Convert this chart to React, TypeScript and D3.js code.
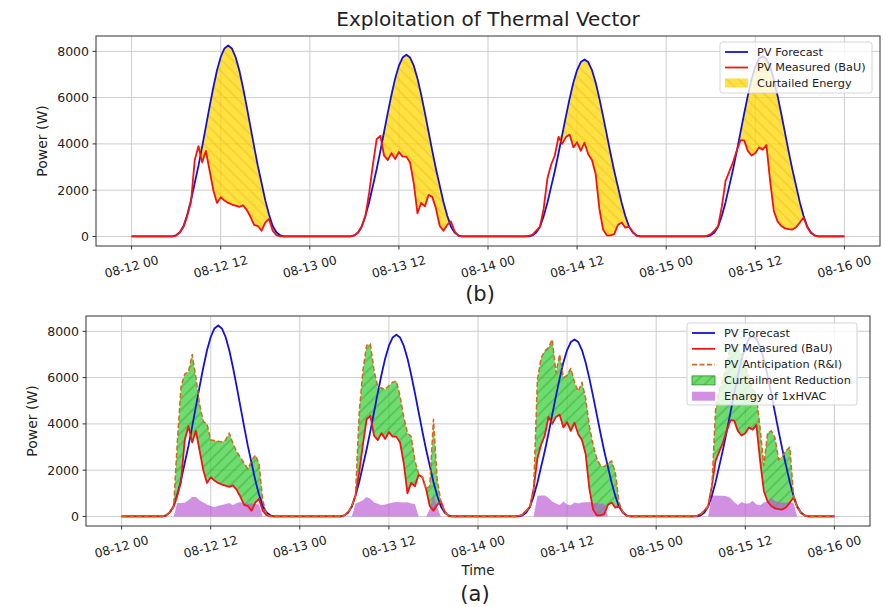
import React from "react";
import * as d3 from "d3";

// half-hour grid of daylight hours, same for every day (zero outside)
const HOURS = [4.5, 5, 5.5, 6, 6.5, 7, 7.5, 8, 8.5, 9, 9.5, 10, 10.5, 11, 11.5, 12, 12.5, 13, 13.5, 14, 14.5, 15, 15.5, 16, 16.5, 17, 17.5, 18, 18.5, 19, 19.5, 20, 20.5, 21, 21.5];

const FORECAST_D1 = [0, 0, 0, 50, 180, 455, 950, 1570, 2310, 3050, 3880, 4745, 5610, 6435, 7180, 7755, 8125, 8250, 8125, 7755, 7180, 6435, 5610, 4745, 3880, 3050, 2310, 1570, 950, 455, 180, 50, 0, 0, 0];
const FORECAST_D2 = [0, 0, 0, 47, 173, 432, 903, 1492, 2198, 2905, 3690, 4514, 5338, 6123, 6830, 7379, 7732, 7850, 7732, 7379, 6830, 6123, 5338, 4514, 3690, 2905, 2198, 1492, 903, 432, 173, 47, 0, 0, 0];
const FORECAST_D3 = [0, 0, 0, 46, 168, 421, 880, 1454, 2142, 2831, 3596, 4399, 5202, 5967, 6656, 7191, 7535, 7650, 7535, 7191, 6656, 5967, 5202, 4399, 3596, 2831, 2142, 1454, 880, 421, 168, 46, 0, 0, 0];
const FORECAST_D4 = [0, 0, 0, 47, 172, 429, 897, 1482, 2184, 2886, 3666, 4485, 5304, 6084, 6786, 7332, 7683, 7800, 7683, 7332, 6786, 6084, 5304, 4485, 3666, 2886, 2184, 1482, 897, 429, 172, 47, 0, 0, 0];

const MEASURED_D1 = [0, 0, 0, 50, 180, 420, 900, 1500, 3300, 3900, 3200, 3700, 2850, 2000, 1450, 1700, 1550, 1450, 1380, 1330, 1280, 1340, 1150, 850, 500, 450, 250, 600, 760, 250, 60, 0, 0, 0, 0];
const MEASURED_D2 = [0, 0, 0, 47, 173, 432, 900, 1900, 3100, 4200, 4350, 3500, 3300, 3600, 3350, 3650, 3450, 3450, 3200, 2300, 1000, 1450, 1300, 1800, 1700, 1200, 450, 250, 500, 650, 220, 30, 0, 0, 0];
const MEASURED_D3 = [0, 0, 30, 80, 250, 420, 1200, 2500, 3100, 3500, 4300, 4000, 4300, 4400, 3850, 4070, 3700, 4050, 3550, 3300, 2700, 1200, 300, 50, 50, 100, 500, 600, 380, 420, 200, 30, 0, 0, 0];
const MEASURED_D4 = [0, 0, 30, 100, 250, 450, 1300, 2400, 2800, 3200, 3700, 4150, 4150, 3700, 3500, 3600, 3850, 3750, 3950, 2400, 1100, 650, 450, 350, 320, 300, 400, 600, 820, 400, 150, 40, 0, 0, 0];

const ANTICIPATION_D1 = [0, 0, 0, 50, 180, 420, 3200, 5600, 6150, 6250, 7000, 6000, 4850, 4100, 4000, 3300, 3280, 3250, 3220, 3300, 3600, 3150, 2800, 2550, 2300, 2050, 2400, 2650, 2300, 700, 100, 0, 0, 0, 0];
const ANTICIPATION_D2 = [0, 0, 0, 47, 173, 432, 900, 4500, 6300, 7400, 7450, 6300, 5600, 5550, 5500, 5650, 5800, 5850, 5200, 4300, 3600, 3450, 2400, 1850, 1700, 1200, 1300, 4200, 1600, 650, 220, 30, 0, 0, 0];
const ANTICIPATION_D3 = [0, 0, 30, 80, 250, 420, 1200, 5900, 6850, 7150, 7300, 7650, 6200, 7000, 6000, 6100, 6400, 5800, 5400, 5800, 5100, 3900, 3100, 2500, 2200, 2150, 2300, 2400, 1900, 600, 200, 30, 0, 0, 0];
const ANTICIPATION_D4 = [0, 0, 30, 100, 250, 450, 1300, 4600, 5500, 5900, 6600, 7300, 7400, 7200, 7000, 6500, 6000, 5500, 5200, 3800, 2200, 3600, 3700, 3400, 2450, 2600, 2850, 3000, 900, 400, 150, 40, 0, 0, 0];

const HVAC_D1 = [0, 0, 0, 0, 0, 0, 580, 580, 590, 700, 840, 840, 700, 600, 520, 450, 400, 460, 500, 540, 580, 480, 580, 620, 560, 550, 560, 540, 520, 0, 0, 0, 0, 0, 0];
const HVAC_D2 = [0, 0, 0, 0, 0, 0, 550, 620, 700, 840, 770, 600, 550, 480, 520, 560, 600, 620, 610, 600, 610, 560, 540, 0, 0, 0, 300, 1000, 400, 0, 0, 0, 0, 0, 0];
const HVAC_D3 = [0, 0, 0, 0, 0, 0, 0, 900, 910, 910, 800, 650, 560, 500, 650, 520, 480, 600, 560, 600, 610, 620, 580, 560, 560, 550, 0, 0, 0, 0, 0, 0, 0, 0, 0];
const HVAC_D4 = [0, 0, 0, 0, 0, 0, 900, 910, 900, 890, 870, 800, 620, 500, 620, 560, 560, 680, 520, 480, 600, 650, 800, 680, 600, 600, 600, 600, 580, 0, 0, 0, 0, 0, 0];

// hours since 08-12 00
const TICK_HOURS = [0, 12, 24, 36, 48, 60, 72, 84, 96];
const TICK_LABELS = ["08-12 00", "08-12 12", "08-13 00", "08-13 12", "08-14 00", "08-14 12", "08-15 00", "08-15 12", "08-16 00"];
const Y_TICKS = [0, 2000, 4000, 6000, 8000];

const LEGEND_TOP = ["PV Forecast", "PV Measured (BaU)", "Curtailed Energy"];
const LEGEND_BOTTOM = ["PV Forecast", "PV Measured (BaU)", "PV Anticipation (R&I)", "Curtailment Reduction", "Enargy of 1xHVAC"];

type Pt = { t: number; v: number };
type Box = { left: number; top: number; right: number; bottom: number };

const toSeries = (days: number[][]): Pt[] => {
  const pts: Pt[] = [{ t: 0, v: 0 }];
  days.forEach((vals, k) => vals.forEach((v, i) => pts.push({ t: k * 24 + HOURS[i], v })));
  pts.push({ t: 96, v: 0 });
  return pts;
};

const forecast = toSeries([FORECAST_D1, FORECAST_D2, FORECAST_D3, FORECAST_D4]);
const measured = toSeries([MEASURED_D1, MEASURED_D2, MEASURED_D3, MEASURED_D4]);
const anticipation = toSeries([ANTICIPATION_D1, ANTICIPATION_D2, ANTICIPATION_D3, ANTICIPATION_D4]);
const hvac = toSeries([HVAC_D1, HVAC_D2, HVAC_D3, HVAC_D4]);

const BLUE = "#1212d6";
const RED = "#f01414";
const ORANGE = "#d2691e";
const FONT = "'DejaVu Sans', Verdana, sans-serif";

const Grid = ({ box, x, y }: { box: Box; x: any; y: any }) => (
  <g stroke="#cdcdcd" strokeWidth={1}>
    {TICK_HOURS.map((h) => (
      <line key={"v" + h} x1={x(h)} x2={x(h)} y1={box.top} y2={box.bottom} />
    ))}
    {Y_TICKS.map((v) => (
      <line key={"h" + v} x1={box.left} x2={box.right} y1={y(v)} y2={y(v)} />
    ))}
  </g>
);

const Frame = ({ box, x, y, labelY }: { box: Box; x: any; y: any; labelY: number }) => (
  <g fontFamily={FONT} fill="#222">
    <rect x={box.left} y={box.top} width={box.right - box.left} height={box.bottom - box.top} fill="none" stroke="#333" strokeWidth={1} />
    {TICK_HOURS.map((h, i) => (
      <g key={h}>
        <line x1={x(h)} x2={x(h)} y1={box.bottom} y2={box.bottom + 3.5} stroke="#333" />
        <text
          transform={`translate(${x(h)},${labelY}) rotate(-15)`}
          textAnchor="middle"
          dominantBaseline="central"
          fontSize={12.3}
        >
          {TICK_LABELS[i]}
        </text>
      </g>
    ))}
    {Y_TICKS.map((v) => (
      <g key={v}>
        <line x1={box.left - 3.5} x2={box.left} y1={y(v)} y2={y(v)} stroke="#333" />
        <text x={box.left - 7} y={y(v)} textAnchor="end" dominantBaseline="central" fontSize={12.5}>
          {v}
        </text>
      </g>
    ))}
  </g>
);

type Row = { label: string; kind: string; color: string };

const Legend = ({ x, y, w, h, rowH, rows }: { x: number; y: number; w: number; h: number; rowH: number; rows: Row[] }) => (
  <g fontFamily={FONT}>
    <rect x={x} y={y} width={w} height={h} rx={2.5} fill="#fff" fillOpacity={0.8} stroke="#d4d4d4" />
    {rows.map((r, i) => {
      const cy = y + 10 + i * rowH;
      return (
        <g key={r.label}>
          {r.kind === "line" && <line x1={x + 5} x2={x + 28} y1={cy} y2={cy} stroke={r.color} strokeWidth={1.8} />}
          {r.kind === "dash" && <line x1={x + 5} x2={x + 28} y1={cy} y2={cy} stroke={r.color} strokeWidth={1.6} strokeDasharray="5,2.5" />}
          {r.kind === "gold" && (
            <g>
              <rect x={x + 5} y={cy - 4.5} width={23} height={9} fill="#ffd700" fillOpacity={0.75} />
              <rect x={x + 5} y={cy - 4.5} width={23} height={9} fill="url(#hatchGold)" />
            </g>
          )}
          {r.kind === "green" && (
            <g>
              <rect x={x + 5} y={cy - 4.5} width={23} height={9} fill="#32cd32" fillOpacity={0.7} stroke="#2a8a2a" strokeWidth={0.8} />
              <rect x={x + 5} y={cy - 4.5} width={23} height={9} fill="url(#hatchGreen)" />
            </g>
          )}
          {r.kind === "purple" && <rect x={x + 5} y={cy - 4.5} width={23} height={9} fill="#ba55d3" fillOpacity={0.65} />}
          <text x={x + 37} y={cy} dominantBaseline="central" fontSize={11.3} fill="#222">
            {r.label}
          </text>
        </g>
      );
    })}
  </g>
);

export default function App() {
  const W = 884;
  const H = 607;
  const top: Box = { left: 96, top: 36, right: 880, bottom: 246 };
  const bot: Box = { left: 86, top: 316, right: 870, bottom: 526 };

  const xTop = d3.scaleLinear().domain([-4.8, 100.8]).range([top.left, top.right]);
  const yTop = d3.scaleLinear().domain([-412, 8662]).range([top.bottom, top.top]);
  const xBot = d3.scaleLinear().domain([-4.8, 100.8]).range([bot.left, bot.right]);
  const yBot = d3.scaleLinear().domain([-412, 8662]).range([bot.bottom, bot.top]);

  const linePath = (x: any, y: any, s: Pt[]) =>
    d3.line<Pt>().x((d) => x(d.t)).y((d) => y(d.v))(s) as string;

  // band between a lower and an upper series, only where upper is above
  const bandPath = (x: any, y: any, lo: Pt[], hi: Pt[]) =>
    d3
      .area<number>()
      .x((i) => x(lo[i].t))
      .y0((i) => y(lo[i].v))
      .y1((i) => y(Math.max(lo[i].v, hi[i].v)))(d3.range(lo.length)) as string;

  const hvacPath = d3
    .area<Pt>()
    .x((d) => xBot(d.t))
    .y0(yBot(0))
    .y1((d) => yBot(d.v))(hvac) as string;

  const curtailed = bandPath(xTop, yTop, measured, forecast);
  const reduction = bandPath(xBot, yBot, measured, anticipation);

  const topRows: Row[] = [
    { label: LEGEND_TOP[0], kind: "line", color: BLUE },
    { label: LEGEND_TOP[1], kind: "line", color: RED },
    { label: LEGEND_TOP[2], kind: "gold", color: "" },
  ];
  const botRows: Row[] = [
    { label: LEGEND_BOTTOM[0], kind: "line", color: BLUE },
    { label: LEGEND_BOTTOM[1], kind: "line", color: RED },
    { label: LEGEND_BOTTOM[2], kind: "dash", color: ORANGE },
    { label: LEGEND_BOTTOM[3], kind: "green", color: "" },
    { label: LEGEND_BOTTOM[4], kind: "purple", color: "" },
  ];

  return (
    <div style={{ position: "absolute", left: 0, top: 0 }}>
      <svg width={W} height={H} style={{ display: "block", background: "#fff" }}>
        <defs>
          <clipPath id="clipTop">
            <rect x={top.left} y={top.top} width={top.right - top.left} height={top.bottom - top.top} />
          </clipPath>
          <clipPath id="clipBot">
            <rect x={bot.left} y={bot.top} width={bot.right - bot.left} height={bot.bottom - bot.top} />
          </clipPath>
          <pattern id="hatchGold" patternUnits="userSpaceOnUse" width={8} height={8} patternTransform="rotate(-45)">
            <line x1={2} x2={2} y1={0} y2={8} stroke="#e0961c" strokeWidth={1} strokeOpacity={0.45} />
          </pattern>
          <pattern id="hatchGreen" patternUnits="userSpaceOnUse" width={8} height={8} patternTransform="rotate(45)">
            <line x1={2} x2={2} y1={0} y2={8} stroke="#1f861f" strokeWidth={1} strokeOpacity={0.55} />
          </pattern>
        </defs>

        <text x={488} y={26} textAnchor="middle" fontFamily={FONT} fontSize={20} fill="#222">
          Exploitation of Thermal Vector
        </text>

        {/* (b) top panel */}
        <Grid box={top} x={xTop} y={yTop} />
        <g clipPath="url(#clipTop)">
          <path d={curtailed} fill="#ffd700" fillOpacity={0.75} />
          <path d={curtailed} fill="url(#hatchGold)" />
          <path d={linePath(xTop, yTop, forecast)} fill="none" stroke={BLUE} strokeWidth={1.8} strokeLinejoin="round" />
          <path d={linePath(xTop, yTop, measured)} fill="none" stroke={RED} strokeWidth={1.8} strokeLinejoin="round" />
        </g>
        <Frame box={top} x={xTop} y={yTop} labelY={267} />
        <text transform="translate(42,141) rotate(-90)" textAnchor="middle" dominantBaseline="central" fontFamily={FONT} fontSize={14} fill="#222">
          Power (W)
        </text>
        <Legend x={720} y={42} w={152} h={51} rowH={15.5} rows={topRows} />
        <text x={480} y={301} textAnchor="middle" fontFamily={FONT} fontSize={21} fill="#222">
          (b)
        </text>

        {/* (a) bottom panel */}
        <Grid box={bot} x={xBot} y={yBot} />
        <g clipPath="url(#clipBot)">
          <path d={reduction} fill="#32cd32" fillOpacity={0.7} />
          <path d={reduction} fill="url(#hatchGreen)" />
          <path d={hvacPath} fill="#ba55d3" fillOpacity={0.65} />
          <path d={linePath(xBot, yBot, forecast)} fill="none" stroke={BLUE} strokeWidth={1.8} strokeLinejoin="round" />
          <path d={linePath(xBot, yBot, measured)} fill="none" stroke={RED} strokeWidth={1.8} strokeLinejoin="round" />
          <path d={linePath(xBot, yBot, anticipation)} fill="none" stroke={ORANGE} strokeWidth={1.5} strokeDasharray="5,2.5" strokeLinejoin="round" />
        </g>
        <Frame box={bot} x={xBot} y={yBot} labelY={547} />
        <text transform="translate(32,421) rotate(-90)" textAnchor="middle" dominantBaseline="central" fontFamily={FONT} fontSize={14} fill="#222">
          Power (W)
        </text>
        <text x={478} y={575} textAnchor="middle" fontFamily={FONT} fontSize={13.5} fill="#222">
          Time
        </text>
        <Legend x={687} y={323} w={170} h={82} rowH={15.8} rows={botRows} />
        <text x={475} y={601} textAnchor="middle" fontFamily={FONT} fontSize={21} fill="#222">
          (a)
        </text>
      </svg>
    </div>
  );
}
